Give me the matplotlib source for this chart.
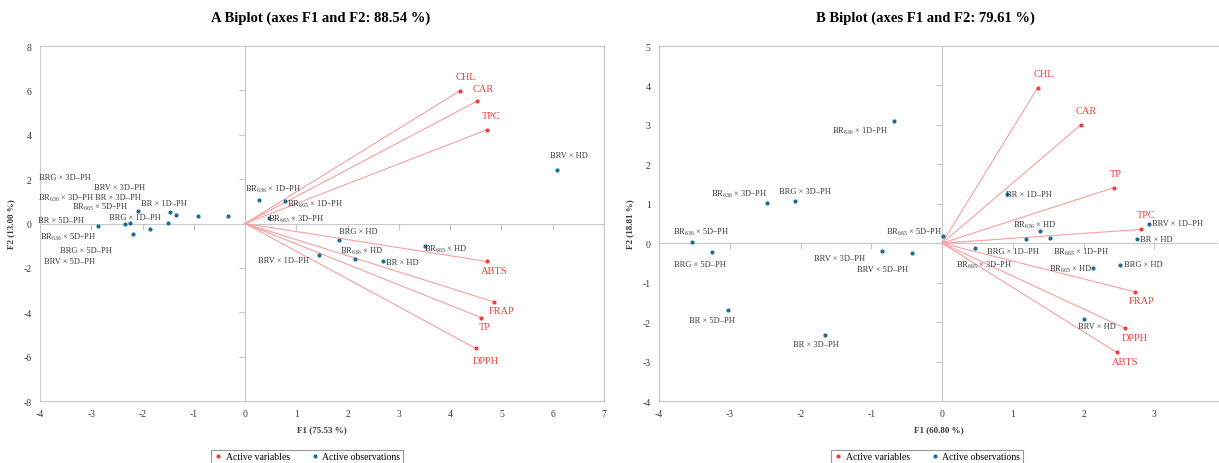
"""
PCA biplots (F1 x F2) for two experiments, side by side. Writes out.png.
"""

import matplotlib
matplotlib.use("Agg")
import matplotlib.pyplot as plt
from matplotlib.lines import Line2D
from matplotlib.markers import TICKLEFT, TICKDOWN

plt.rcParams["font.family"] = ["Liberation Serif", "DejaVu Serif"]
plt.rcParams["mathtext.default"] = "regular"

OBS_C = "#1b6d96"; VAR_C = "#f23d3d"; LINE_C = "#f5a0a0"
AX_C = "#c8c8c8"; TXT_C = "#3a3a3a"

# ---- panel A data ---------------------------------------------------------
a_var_names = ["CHL", "CAR", "TPC", "ABTS", "FRAP", "TP", "DPPH"]
a_var_f1 = [4.19, 4.52, 4.71, 4.71, 4.85, 4.61, 4.50]
a_var_f2 = [5.98, 5.51, 4.22, -1.71, -3.53, -4.25, -5.63]

a_obs_names = ["BR × 5D–PH", "BR$_{636}$ × 5D–PH", "BRG × 1D–PH", "BRG × 5D–PH",
               "BR$_{665}$ × 5D–PH", "BRV × 5D–PH", "BR × 3D–PH", "BR × 1D–PH",
               "BR$_{636}$ × 3D–PH", "BRV × 3D–PH", "BRG × 3D–PH",
               "BR$_{636}$ × 1D–PH", "BR$_{665}$ × 1D–PH", "BR$_{665}$ × 3D–PH",
               "BRV × 1D–PH", "BRG × HD", "BR$_{665}$ × HD", "BR$_{636}$ × HD",
               "BR × HD", "BRV × HD"]
a_obs_f1 = [-2.87, -2.34, -2.25, -2.18, -2.09, -1.85, -1.50, -1.46, -1.35, -0.92,
            -0.33, 0.27, 0.78, 0.46, 1.44, 1.83, 3.51, 2.15, 2.68, 6.08]
a_obs_f2 = [-0.10, -0.01, 0.03, -0.46, 0.55, -0.27, 0.01, 0.53, 0.39, 0.36,
            0.32, 1.05, 1.02, 0.24, -1.43, -0.73, -1.00, -1.61, -1.67, 2.43]

# ---- panel B data ---------------------------------------------------------
b_var_names = ["CHL", "CAR", "TP", "TPC", "FRAP", "DPPH", "ABTS"]
b_var_f1 = [1.35, 1.96, 2.43, 2.81, 2.72, 2.59, 2.47]
b_var_f2 = [3.94, 3.00, 1.41, 0.35, -1.23, -2.16, -2.77]

b_obs_names = ["BR$_{636}$ × 3D–PH", "BRG × 3D–PH", "BR$_{636}$ × 5D–PH", "BRG × 5D–PH",
               "BRV × 3D–PH", "BRV × 5D–PH", "BR × 5D–PH", "BR$_{665}$ × 5D–PH",
               "BR × 3D–PH", "BR$_{636}$ × 1D–PH", "BR × 1D–PH", "BRV × 1D–PH",
               "BR$_{636}$ × HD", "BR × HD", "BR$_{665}$ × HD", "BRG × HD", "BRV × HD",
               "BRG × 1D–PH", "BR$_{665}$ × 1D–PH", "BR$_{665}$ × 3D–PH"]
b_obs_f1 = [-2.48, -2.08, -3.53, -3.25, -0.85, -0.42, -3.03, 0.02, -1.65, -0.68,
            0.92, 2.93, 1.39, 2.76, 2.14, 2.51, 2.00, 1.18, 1.52, 0.47]
b_obs_f2 = [1.01, 1.07, 0.02, -0.22, -0.19, -0.25, -1.70, 0.19, -2.33, 3.09,
            1.26, 0.48, 0.30, 0.10, -0.63, -0.54, -1.93, 0.11, 0.13, -0.12]

# label placement (offset in pixels from the point, centre of the text)
a_var_off = [(6, 14), (6, 13), (5, 14), (8, -9), (8, -9), (3, -9), (10, -12)]
a_obs_off = [(-37, 6), (-57, -13), (5, 6), (-47, -16), (-38, 5), (-81, -32),
             (-50, 26), (-6, 9), (-110, 17), (-78, 29), (-163, 39), (14, 12),
             (30, -3), (27, 0), (-35, -5), (19, 9), (20, -3), (6, 9), (20, -1), (12, 15)]
b_var_off = [(6, 14), (6, 14), (2, 14), (5, 15), (7, -9), (9, -9), (8, -9)]
b_obs_off = [(-28, 10), (10, 10), (9, 11), (-12, -12), (-42, -7), (-30, -16),
             (-16, -10), (-29, 4), (-9, -9), (-34, -9), (22, 0), (28, 1), (-6, 7),
             (19, 0), (-23, 0), (24, 1), (13, -7), (-13, -12), (31, -13), (9, -16)]


def biplot(ax, vn, vx, vy, voff, on, ox, oy, ooff, xlim, ylim, xt, yt, xl, yl):
    ax.set_xlim(*xlim); ax.set_ylim(*ylim)
    ax.set_xticks(xt); ax.set_yticks(yt)
    ax.set_xticklabels([str(t) for t in xt]); ax.set_yticklabels([str(t) for t in yt])
    ax.tick_params(length=0, labelsize=7, colors=TXT_C, pad=6)
    for s in ax.spines.values():
        s.set_color(AX_C); s.set_linewidth(0.8)
    # cross axes through the origin with their own small ticks
    ax.axhline(0, color=AX_C, lw=0.8, zorder=1)
    ax.axvline(0, color=AX_C, lw=0.8, zorder=1)
    ax.plot([0] * len(yt), yt, ls="none", marker=TICKLEFT, ms=4, mew=0.8, color=AX_C, zorder=1)
    ax.plot(xt, [0] * len(xt), ls="none", marker=TICKDOWN, ms=4, mew=0.8, color=AX_C, zorder=1)

    for x, y in zip(vx, vy):
        ax.plot([0, x], [0, y], color=LINE_C, lw=0.8, zorder=2)
    ax.plot(vx, vy, "o", ls="none", ms=2, color=VAR_C, zorder=3)
    for name, x, y, off in zip(vn, vx, vy, voff):
        ax.annotate(name, (x, y), xytext=off, textcoords="offset pixels",
                    ha="center", va="center", fontsize=7.5, color=VAR_C)

    ax.plot(ox, oy, "o", ls="none", ms=2, color=OBS_C, zorder=3)
    for name, x, y, off in zip(on, ox, oy, ooff):
        ax.annotate(name, (x, y), xytext=off, textcoords="offset pixels",
                    ha="center", va="center", fontsize=6, color=TXT_C)

    ax.set_xlabel(xl, fontsize=6.5, fontweight="bold", color=TXT_C, labelpad=5)
    ax.set_ylabel(yl, fontsize=6.5, fontweight="bold", color=TXT_C, labelpad=6)


W, H = 1219, 464
fig = plt.figure(figsize=(W / 100, H / 100), dpi=100)
axA = fig.add_axes([40 / W, 62 / H, 564 / W, 355 / H])
axB = fig.add_axes([659 / W, 62 / H, 559 / W, 355 / H])

biplot(axA, a_var_names, a_var_f1, a_var_f2, a_var_off,
       a_obs_names, a_obs_f1, a_obs_f2, a_obs_off,
       (-4, 7), (-8, 8), list(range(-4, 8)), list(range(-8, 9, 2)),
       "F1 (75.53 %)", "F2 (13.00 %)")
biplot(axB, b_var_names, b_var_f1, b_var_f2, b_var_off,
       b_obs_names, b_obs_f1, b_obs_f2, b_obs_off,
       (-4, 3.9), (-4, 5), list(range(-4, 4)), list(range(-4, 6)),
       "F1 (60.80 %)", "F2 (18.81 %)")
axB.spines["right"].set_visible(False)

fig.text(321 / W, 1 - 18 / H, "A Biplot (axes F1 and F2: 88.54 %)",
         ha="center", va="center", fontsize=10.5, fontweight="bold")
fig.text(925 / W, 1 - 18 / H, "B Biplot (axes F1 and F2: 79.61 %)",
         ha="center", va="center", fontsize=10.5, fontweight="bold")

handles = [Line2D([], [], ls="none", marker="o", ms=2, color=VAR_C, label="Active variables"),
           Line2D([], [], ls="none", marker="o", ms=2, color=OBS_C, label="Active observations")]
for cx in (307 / W, 927 / W):
    leg = fig.legend(handles=handles, loc="upper center", bbox_to_anchor=(cx, 13 / H),
                     ncol=2, fontsize=7, frameon=True, fancybox=False,
                     handlelength=1.0, handletextpad=0.3, columnspacing=2.0,
                     borderpad=0.25, borderaxespad=0, edgecolor="#808080")
    leg.get_frame().set_linewidth(0.8)

fig.savefig("out.png", dpi=100)
